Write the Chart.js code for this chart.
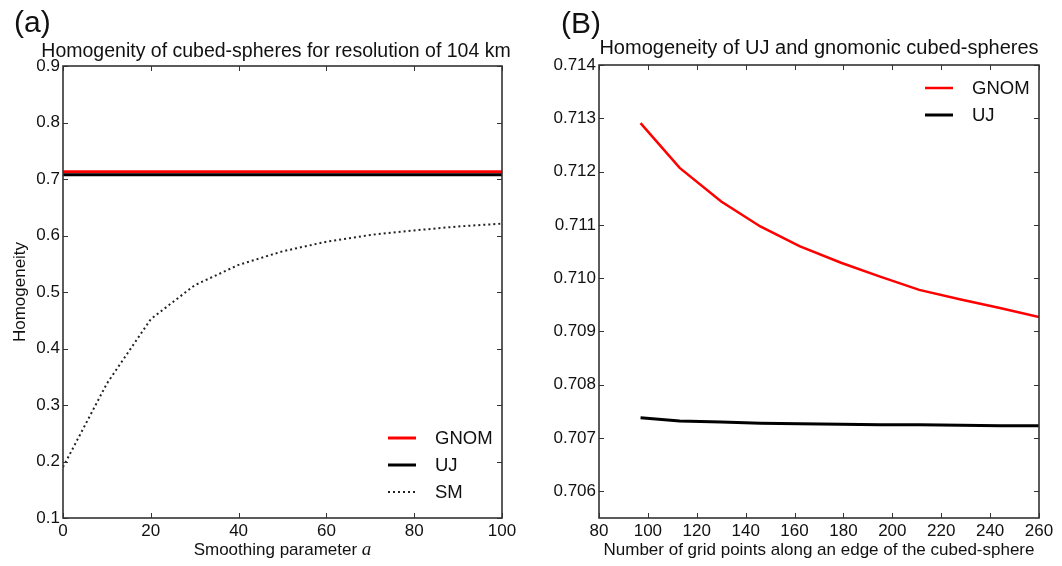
<!DOCTYPE html>
<html>
<head>
<meta charset="utf-8">
<script src="https://cdn.jsdelivr.net/npm/chart.js@4.4.0/dist/chart.umd.min.js"></script>
<style>
	html, body { margin: 0; padding: 0; background: #fff; }
	#wrap { position: relative; width: 1062px; height: 566px; }
	.panel { position: absolute; top: 0; width: 531px; height: 566px; }
</style>
</head>
<body>
<div id="wrap">
	<div class="panel" style="left:0"><canvas id="chart-a" width="531" height="566"></canvas></div>
	<div class="panel" style="left:531px"><canvas id="chart-b" width="531" height="566"></canvas></div>
</div>
<script>
// ── Panel (a): homogeneity vs smoothing parameter ───────────────────
const smoothParam = [0, 10, 20, 30, 40, 50, 60, 70, 80, 90, 100];
const smHomog     = [0.190, 0.338, 0.452, 0.512, 0.548, 0.572, 0.589, 0.601, 0.609, 0.616, 0.621];
const flatEnds    = [0, 100];
const gnomFlat    = [0.7129, 0.7129];
const ujFlat      = [0.7074, 0.7074];
const xTicksA     = [0, 20, 40, 60, 80, 100];
const yTicksA     = [0.1, 0.2, 0.3, 0.4, 0.5, 0.6, 0.7, 0.8, 0.9];

// ── Panel (B): homogeneity vs grid points ───────────────────────────
const gridPoints  = [97, 113, 130, 146, 162, 179, 195, 211, 228, 244, 260];
const gnomHomog   = [0.71291, 0.71207, 0.71144, 0.71097, 0.71060, 0.71029, 0.71003, 0.70978, 0.70960, 0.70944, 0.70927];
const ujHomog     = [0.70738, 0.70732, 0.70730, 0.70728, 0.70727, 0.70726, 0.70725, 0.70725, 0.70724, 0.70723, 0.70723];
const xTicksB     = [80, 100, 120, 140, 160, 180, 200, 220, 240, 260];
const yTicksB     = [0.706, 0.707, 0.708, 0.709, 0.710, 0.711, 0.712, 0.713, 0.714];

const FONT = "'Liberation Sans', Arial, sans-serif";
const pts = (xs, ys) => xs.map((x, i) => ({ x: x, y: ys[i] }));

// frame, inward ticks, titles and legend (matplotlib-like box)
function decor(opts) {
	return {
		id: "decor",
		afterDraw(chart) {
			const { ctx, chartArea: a, scales } = chart;
			ctx.save();
			ctx.strokeStyle = "#333";
			ctx.lineWidth = 1;
			const seg = (x1, y1, x2, y2) => { ctx.beginPath(); ctx.moveTo(x1, y1); ctx.lineTo(x2, y2); ctx.stroke(); };
			scales.x.ticks.forEach(t => {
				const px = Math.round(scales.x.getPixelForValue(t.value)) + 0.5;
				seg(px, a.bottom, px, a.bottom - 5);
				seg(px, a.top, px, a.top + 5);
			});
			scales.y.ticks.forEach(t => {
				const py = Math.round(scales.y.getPixelForValue(t.value)) + 0.5;
				seg(a.left, py, a.left + 5, py);
				seg(a.right, py, a.right - 5, py);
			});
			ctx.lineWidth = 1.6;
			ctx.strokeRect(a.left, a.top, a.right - a.left, a.bottom - a.top);

			ctx.fillStyle = "#111";
			// panel label
			ctx.textAlign = "left";
			ctx.textBaseline = "alphabetic";
			ctx.font = "30px " + FONT;
			ctx.fillText(opts.panel, opts.panelX, opts.panelY);
			// title
			ctx.textAlign = "center";
			ctx.font = opts.titleSize + "px " + FONT;
			ctx.fillText(opts.title, opts.titleX, opts.titleY);

			// legend
			ctx.textAlign = "left";
			ctx.textBaseline = "middle";
			ctx.font = "18.5px " + FONT;
			opts.legend.forEach((dsIndex, k) => {
				const ds = chart.data.datasets[dsIndex];
				const y = (opts.legendFromTop ? a.top + 23 : a.bottom - 80) + k * 27;
				ctx.save();
				ctx.strokeStyle = ds.borderColor;
				ctx.lineWidth = ds.borderWidth;
				ctx.setLineDash(ds.borderDash || []);
				seg(a.right - 114, y, a.right - 86, y);
				ctx.restore();
				ctx.fillText(ds.label, a.right - 67, y + 1);
			});

			// x title with italic math symbol
			if (opts.xTitleParts) {
				const [plain, ital] = opts.xTitleParts;
				ctx.textBaseline = "middle";
				ctx.font = "17px " + FONT;
				const w1 = ctx.measureText(plain).width;
				ctx.font = "italic 19px 'Liberation Serif', serif";
				const w2 = ctx.measureText(ital).width;
				let x0 = (a.left + a.right) / 2 - (w1 + w2) / 2;
				ctx.font = "17px " + FONT;
				ctx.fillText(plain, x0, opts.xTitleY);
				ctx.font = "italic 19px 'Liberation Serif', serif";
				ctx.fillText(ital, x0 + w1, opts.xTitleY);
			}
			ctx.restore();
		},
	};
}

function axis(min, max, tickList, fmt, extra) {
	return Object.assign({
		type: "linear",
		min: min,
		max: max,
		grid: { display: false, drawTicks: false },
		border: { display: false },
		afterBuildTicks: s => { s.ticks = tickList.map(v => ({ value: v })); },
		ticks: {
			color: "#111",
			font: { family: FONT, size: 17 },
			callback: v => v.toFixed(fmt),
		},
	}, extra);
}

// ── Chart (a) ───────────────────────────────────────────────────────
new Chart(document.getElementById("chart-a"), {
	type: "line",
	data: {
		datasets: [
			{ label: "GNOM", data: pts(flatEnds, gnomFlat), borderColor: "#ff0000", borderWidth: 3, order: 2 },
			{ label: "UJ",   data: pts(flatEnds, ujFlat),   borderColor: "#000000", borderWidth: 3, order: 1 },
			{ label: "SM",   data: pts(smoothParam, smHomog), borderColor: "#222", borderWidth: 2, borderDash: [2, 3], order: 0 },
		],
	},
	options: {
		responsive: false,
		animation: false,
		layout: { padding: { left: 0, right: 29, top: 66, bottom: 0 } },
		elements: { point: { radius: 0 }, line: { tension: 0 } },
		plugins: { legend: { display: false }, tooltip: { enabled: false } },
		scales: {
			x: axis(0, 100, xTicksA, 0, {
				afterFit: s => { s.height = 48; },
			}),
			y: axis(0.1, 0.9, yTicksA, 1, {
				afterFit: s => { s.width = 63; },
				title: { display: true, text: "Homogeneity", color: "#111", font: { family: FONT, size: 17 }, padding: { top: 10, bottom: 0 } },
			}),
		},
	},
	plugins: [decor({
		panel: "(a)", panelX: 14, panelY: 32,
		title: "Homogenity of cubed-spheres for resolution of 104 km", titleX: 276, titleY: 57, titleSize: 19.5,
		legend: [0, 1, 2], legendFromTop: false,
		xTitleParts: ["Smoothing parameter ", "a"], xTitleY: 550,
	})],
});

// ── Chart (B) ───────────────────────────────────────────────────────
new Chart(document.getElementById("chart-b"), {
	type: "line",
	data: {
		datasets: [
			{ label: "GNOM", data: pts(gridPoints, gnomHomog), borderColor: "#ff0000", borderWidth: 2.5 },
			{ label: "UJ",   data: pts(gridPoints, ujHomog),   borderColor: "#000000", borderWidth: 3 },
		],
	},
	options: {
		responsive: false,
		animation: false,
		layout: { padding: { left: 0, right: 23, top: 65, bottom: 0 } },
		elements: { point: { radius: 0 }, line: { tension: 0 } },
		plugins: { legend: { display: false }, tooltip: { enabled: false } },
		scales: {
			x: axis(80, 260, xTicksB, 0, {
				afterFit: s => { s.height = 48; },
				title: { display: true, text: "Number of grid points along an edge of the cubed-sphere", color: "#111", font: { family: FONT, size: 17 }, padding: { top: 0, bottom: 5 } },
			}),
			y: axis(0.7055, 0.714, yTicksB, 3, {
				afterFit: s => { s.width = 68; },
			}),
		},
	},
	plugins: [decor({
		panel: "(B)", panelX: 30, panelY: 33,
		title: "Homogeneity of UJ and gnomonic cubed-spheres", titleX: 288, titleY: 54, titleSize: 20,
		legend: [0, 1], legendFromTop: true,
	})],
});
</script>
</body>
</html>
